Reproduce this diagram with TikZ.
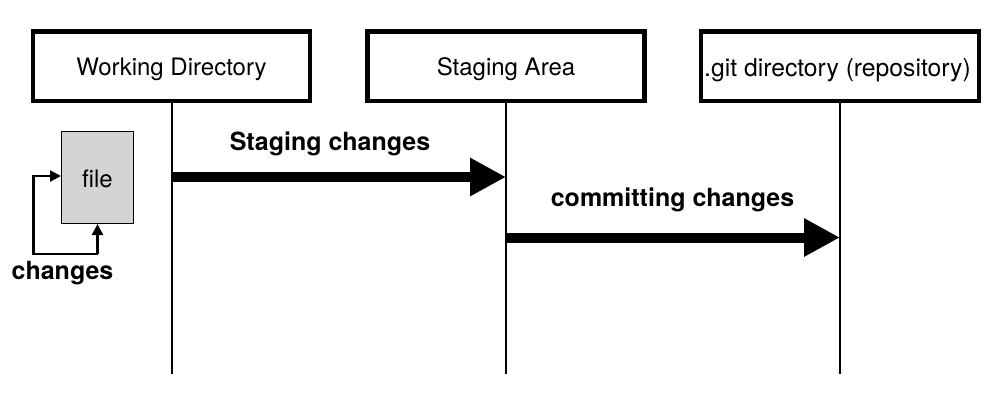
\documentclass[tikz,border=0pt]{standalone}
\usepackage{fontspec}
\setmainfont{TeX Gyre Heros}
\usetikzlibrary{arrows.meta,calc}
\newcommand{\lanetext}[2][9.5pt]{\raisebox{-#1}[0pt][0pt]{#2}}
\tikzset{
  lane/.style={draw=black,line width=4.5pt,fill=white,minimum width=277pt,minimum height=69.5pt,inner sep=0pt,font=\fontsize{24}{28}\selectfont,text=black},
  lifeline/.style={draw=black,line width=2pt},
  bigflow/.style={draw=black,line width=10pt,-{Triangle[length=36pt,width=36pt,fill=black]},shorten >=0pt},
  loopflow/.style={draw=black,line width=2.3pt,-{Triangle[length=11pt,width=11pt,fill=black]}},
  doc/.style={draw=black,line width=1pt,fill=black!17,minimum width=72pt,minimum height=92pt,inner sep=0pt,font=\fontsize{24}{28}\selectfont},
  flowlabel/.style={inner sep=0pt,font=\bfseries\fontsize{25}{29}\selectfont,text=black}
}
\begin{document}
\begin{tikzpicture}[x=1pt,y=-1pt]
\useasboundingbox (0,0) rectangle (1002,408);
% column headers
\node[lane] (wd) at (171.5,66) {\lanetext{Working Directory}};
\node[lane] (sa) at (506,66) {\lanetext{Staging Area}};
\node[lane,minimum width=278pt,font=\fontsize{24.7}{28}\selectfont] (gd) at (840,66) {\lanetext[10pt]{.git directory (repository)}\hspace*{5pt}};
% lifeline ends
\coordinate (wdend) at (wd.center |- 0,374);
\coordinate (saend) at (sa.center |- 0,374);
\coordinate (gdend) at (gd.center |- 0,374);
\draw[lifeline] (wd.south) -- (wdend);
\draw[lifeline] (sa.south) -- (saend);
\draw[lifeline] (gd.south) -- (gdend);
% transfers between the areas
\coordinate (stagefrom) at (wd.center |- 0,177);
\coordinate (stageto) at (sa.center |- 0,177);
\coordinate (commitfrom) at (sa.center |- 0,237.5);
\coordinate (committo) at (gd.center |- 0,237.5);
\draw[bigflow] (stagefrom) -- (stageto);
\draw[bigflow] (commitfrom) -- (committo);
\node[flowlabel] (stagelabel) at (330,144) {Staging changes};
\node[flowlabel] (commitlabel) at (672.5,200) {committing changes};
% edited file with its change loop
\node[doc] (file) at (97.5,177.5) {\lanetext{file}};
\coordinate (loopa) at (33.5,254);
\coordinate (loopb) at (33.5,176);
\draw[loopflow] (file.south |- loopa) -- (loopa) -- (loopb) -- (file.west |- loopb);
\draw[loopflow] (file.south |- loopa) -- (file.south);
\node[flowlabel] (changes) at (62.5,273.5) {changes};
\end{tikzpicture}
\end{document}
